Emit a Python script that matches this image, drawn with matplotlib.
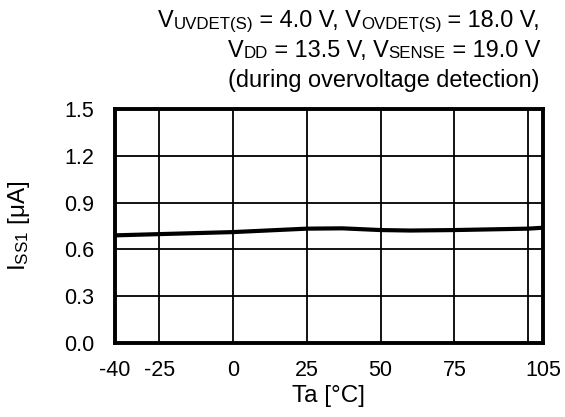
import matplotlib
matplotlib.use("Agg")
import matplotlib.pyplot as plt

plt.rcParams["font.family"] = ["Liberation Sans", "DejaVu Sans"]
plt.rcParams["mathtext.fontset"] = "custom"
plt.rcParams["mathtext.rm"] = "Liberation Sans"
plt.rcParams["mathtext.it"] = "Liberation Sans"

# 消費電流 ISS1 vs 周囲温度
ta = [-40, -25, 0, 25, 37, 50, 60, 75, 100, 105]
iss1 = [0.690, 0.698, 0.711, 0.733, 0.735, 0.724, 0.721, 0.724, 0.733, 0.739]

x_ticks = [-40, -25, 0, 25, 50, 75, 105]
x_grid = [-25, 0, 25, 50, 75, 100]
y_ticks = [0.0, 0.3, 0.6, 0.9, 1.2, 1.5]

# 測定条件 (本文, 添字) の組で1行ずつ
cond_lines = [
    [("V", False), ("UVDET(S)", True), (" = 4.0 V, V", False), ("OVDET(S)", True), (" = 18.0 V,", False)],
    [("V", False), ("DD", True), (" = 13.5 V, V", False), ("SENSE", True), (" = 19.0 V", False)],
    [("(during overvoltage detection)", False)],
]

W, H = 565, 417
left, right, top, bottom = 115, 543, 109, 343
FS_COND = 16.9
FS_SUB = 12.2
FS_TICK = 15.5
FS_LABEL = 17.5


def put_line(fig, renderer, parts, x_right, y_base):
    """右揃えで本文+添字を並べる (座標はピクセル, 上原点)"""
    x = x_right
    for txt, sub in reversed(parts):
        fs = FS_SUB if sub else FS_COND
        dy = -1.5 if sub else 0
        t = fig.text(x / W, 1 - (y_base - dy) / H, txt, ha="right",
                     va="baseline", fontsize=fs)
        x -= t.get_window_extent(renderer).width


fig = plt.figure(figsize=(W / 100, H / 100), dpi=100)
ax = fig.add_axes([left / W, 1 - bottom / H, (right - left) / W, (bottom - top) / H])

for gx in x_grid:
    ax.axvline(gx, color="black", lw=1.3, zorder=1)
for gy in y_ticks[1:-1]:
    ax.axhline(gy, color="black", lw=1.3, zorder=1)

ax.plot(ta, iss1, color="black", lw=3, zorder=3)

ax.set_xlim(-40, 105)
ax.set_ylim(0, 1.5)
ax.set_xticks(x_ticks)
ax.set_xticklabels([str(t) for t in x_ticks])
ax.set_yticks(y_ticks)
ax.set_yticklabels([f"{v:.1f}" for v in y_ticks])
ax.tick_params(length=0, labelsize=FS_TICK)
ax.tick_params(axis="x", pad=12)
ax.tick_params(axis="y", pad=15)
for s in ax.spines.values():
    s.set_linewidth(2.8)

ax.set_xlabel("Ta [°C]", fontsize=FS_LABEL)
ax.set_ylabel(r"$\mathregular{I_{SS1}}$ [μA]", fontsize=FS_LABEL)
ax.xaxis.set_label_coords((329 - left) / (right - left), -(385 - bottom) / (bottom - top))
ax.yaxis.set_label_coords(-(left - 32) / (right - left), 0.5)

renderer = fig.canvas.get_renderer()
for i, parts in enumerate(cond_lines):
    put_line(fig, renderer, parts, 540, 27 + 30 * i)

plt.savefig("out.png", dpi=100)
plt.close()
